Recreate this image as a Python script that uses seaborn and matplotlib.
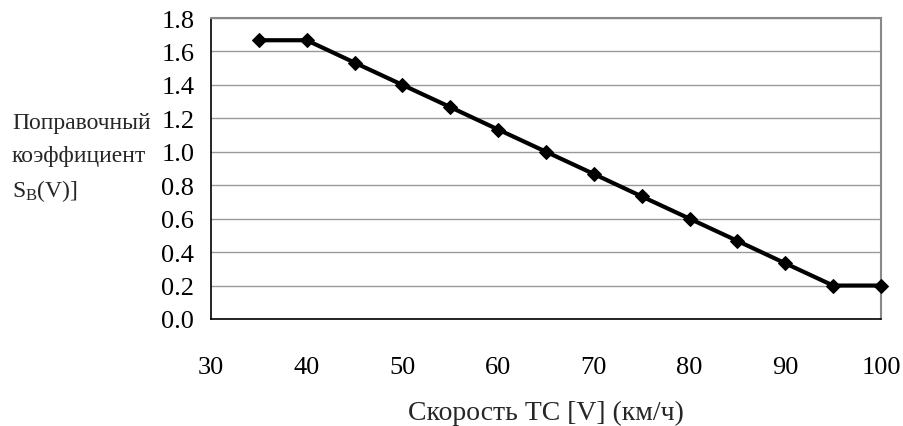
import matplotlib
matplotlib.use("Agg")
import matplotlib.pyplot as plt
import seaborn as sns
import pandas as pd

speed = [35, 40, 45, 50, 55, 60, 65, 70, 75, 80, 85, 90, 95, 100]
factor = [1.667, 1.667, 1.533, 1.4, 1.267, 1.133, 1.0, 0.867, 0.733, 0.6, 0.467, 0.333, 0.2, 0.2]
x_ticks = [30, 40, 50, 60, 70, 80, 90, 100]
y_ticks = [0.0, 0.2, 0.4, 0.6, 0.8, 1.0, 1.2, 1.4, 1.6, 1.8]
y_label_lines = ["Поправочный", "коэффициент", r"S$_{\mathrm{B}}$(V)]"]
x_label = "Скорость ТС [V] (км/ч)"

sns.set_style("white")
plt.rcParams["font.family"] = ["Liberation Serif", "DejaVu Serif"]
plt.rcParams["mathtext.fontset"] = "custom"
plt.rcParams["mathtext.rm"] = "Liberation Serif"
plt.rcParams["mathtext.it"] = "Liberation Serif:italic"

df = pd.DataFrame({"speed": speed, "factor": factor})

fig = plt.figure(figsize=(9.04, 4.27), dpi=100)
ax = fig.add_axes([211/904, 1 - 320/427, (881 - 211)/904, (320 - 19)/427])

sns.lineplot(data=df, x="speed", y="factor", ax=ax, color="black", linewidth=3.0,
             marker="D", markersize=7.5, markeredgecolor="black", markerfacecolor="black",
             clip_on=False, zorder=5)

ax.set_xlim(30, 100)
ax.set_ylim(0, 1.8)
ax.set_xticks(x_ticks)
ax.set_yticks(y_ticks)
ax.set_yticklabels([f"{v:.1f}" for v in y_ticks])
ax.set_xticklabels([str(v) for v in x_ticks])
ax.yaxis.grid(True, color="#999999", linewidth=1.0)
ax.xaxis.grid(False)
ax.set_axisbelow(True)

for side in ["left", "bottom"]:
    ax.spines[side].set_color("black")
    ax.spines[side].set_linewidth(1.2)
for side in ["top", "right"]:
    ax.spines[side].set_color("#888888")
    ax.spines[side].set_linewidth(1.5)
    ax.spines[side].set_visible(True)

ax.tick_params(axis="both", direction="out", length=6, width=1, color="black",
               labelsize=19, labelcolor="black")
ax.tick_params(axis="x", pad=21)
ax.tick_params(axis="y", pad=6)

ax.set_xlabel("")
ax.set_ylabel("")
fig.text(546/904, 1 - 413/427, x_label, ha="center", va="center", fontsize=20)

y_pos = [123, 157, 191]
for txt, yp in zip(y_label_lines, y_pos):
    fig.text(12/904, 1 - yp/427, txt, ha="left", va="center", fontsize=17)

fig.savefig("out.png", dpi=100, facecolor="white")
